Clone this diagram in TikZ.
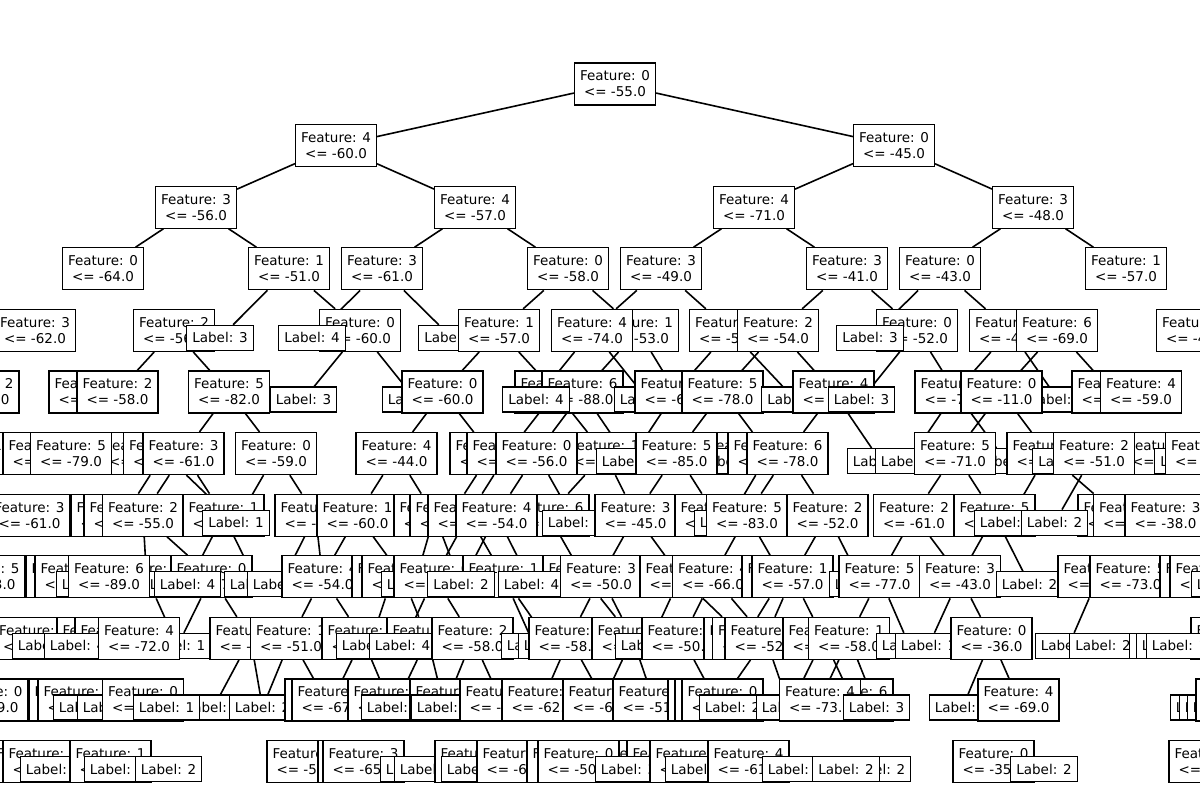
\documentclass[tikz,border=0pt]{standalone}
\usepackage{fontspec}
\setmainfont{DejaVu Sans}
\usetikzlibrary{backgrounds}
\newcommand{\ft}[2]{Feature: #1\\<= #2}
\newcommand{\lb}[1]{Label: #1}
\newcommand{\nfs}{\fontsize{13.5}{16}\selectfont}
\tikzset{
  F/.style={draw, fill=white, line width=1.2pt, align=center, inner xsep=5.5pt, inner ysep=0pt, minimum height=42pt, font=\nfs},
  L/.style={draw, fill=white, line width=1.2pt, inner xsep=5.5pt, inner ysep=0pt, minimum height=25pt, font=\nfs},
  edge/.style={line width=1.6pt}
}
\begin{document}
\begin{tikzpicture}[x=1pt,y=-1pt]
\path[use as bounding box] (0,0) rectangle (1200,800);
% level 0-3
\node[F] (a0) at (615,84) {\ft{0}{-55.0}};
\node[F] (b1) at (336,145.6) {\ft{4}{-60.0}};
\node[F] (b2) at (894,145.6) {\ft{0}{-45.0}};
\node[F] (c1) at (196,207.2) {\ft{3}{-56.0}};
\node[F] (c2) at (475,207.2) {\ft{4}{-57.0}};
\node[F] (c3) at (754,207.2) {\ft{4}{-71.0}};
\node[F] (c4) at (1033,207.2) {\ft{3}{-48.0}};
\node[F] (d1) at (103,268.8) {\ft{0}{-64.0}};
\node[F] (d2) at (289,268.8) {\ft{1}{-51.0}};
\node[F] (d3) at (382,268.8) {\ft{3}{-61.0}};
\node[F] (d4) at (568,268.8) {\ft{0}{-58.0}};
\node[F] (d5) at (661,268.8) {\ft{3}{-49.0}};
\node[F] (d6) at (847,268.8) {\ft{3}{-41.0}};
\node[F] (d7) at (940,268.8) {\ft{0}{-43.0}};
\node[F] (d8) at (1126,268.8) {\ft{1}{-57.0}};
% level 4
\node[F] (e1) at (35,330.4) {\ft{3}{-62.0}};
\node[F] (e2) at (174,330.4) {\ft{2}{-56.0}};
\node[L] (e3) at (220,337.9) {\lb{3}};
\node[F] (e5) at (360,330.4) {\ft{0}{-60.0}};
\node[L] (e4) at (312,337.9) {\lb{4}};
\node[L] (e6) at (452,337.9) {\lb{1}};
\node[F] (e7) at (499,330.4) {\ft{1}{-57.0}};
\node[F] (e9) at (638,330.4) {\ft{1}{-53.0}};
\node[F] (e8) at (592,330.4) {\ft{4}{-74.0}};
\node[F] (e10) at (730,330.4) {\ft{5}{-55.0}};
\node[F] (e11) at (778,330.4) {\ft{2}{-54.0}};
\node[F] (e12) at (917,330.4) {\ft{0}{-52.0}};
\node[L] (e13) at (870,337.9) {\lb{3}};
\node[F] (e14) at (1010,330.4) {\ft{3}{-47.0}};
\node[F] (e15) at (1057,330.4) {\ft{6}{-69.0}};
\node[F] (e16) at (1197,330.4) {\ft{2}{-46.0}};
% level 5
\node[F] (f1) at (-21.5,392) {\ft{2}{-60.0}};
\node[F] (f2) at (89.5,392) {\ft{1}{-57.0}};
\node[F] (f3) at (117.5,392) {\ft{2}{-58.0}};
\node[F] (f4) at (229,392) {\ft{5}{-82.0}};
\node[L] (f5) at (303.5,399.5) {\lb{3}};
\node[L] (f6) at (415.5,399.5) {\lb{2}};
\node[F] (f7) at (442.5,392) {\ft{0}{-60.0}};
\node[F] (f8) at (555.5,392) {\ft{1}{-62.0}};
\node[F] (f9) at (582.5,392) {\ft{6}{-88.0}};
\node[L] (f10) at (536,399.5) {\lb{4}};
\node[L] (f11) at (647.5,399.5) {\lb{1}};
\node[F] (f12) at (675.5,392) {\ft{3}{-64.0}};
\node[F] (f13) at (722.5,392) {\ft{5}{-78.0}};
\node[L] (f14) at (795,399.5) {\lb{0}};
\node[F] (f15) at (833.5,392) {\ft{4}{-70.0}};
\node[L] (f16) at (861.5,399.5) {\lb{3}};
\node[F] (f17) at (955.5,392) {\ft{2}{-73.0}};
\node[L] (f19) at (1058,399.5) {\lb{2}};
\node[F] (f18) at (1001.5,392) {\ft{0}{-11.0}};
\node[F] (f20) at (1112.5,392) {\ft{3}{-45.0}};
\node[F] (f21) at (1141,392) {\ft{4}{-59.0}};
% level 6
\node[F] (g1) at (-33,453.6) {\ft{1}{-70.0}};
\node[F] (g2) at (43.5,453.6) {\ft{0}{-66.0}};
\node[F] (g4) at (140,453.6) {\ft{4}{-53.0}};
\node[F] (g3) at (71,453.6) {\ft{5}{-79.0}};
\node[F] (g5) at (164,453.6) {\ft{0}{-62.0}};
\node[F] (g6) at (183.5,453.6) {\ft{3}{-61.0}};
\node[F] (g7) at (276,453.6) {\ft{0}{-59.0}};
\node[F] (g8) at (396.5,453.6) {\ft{4}{-44.0}};
\node[F] (g9) at (490.5,453.6) {\ft{2}{-61.0}};
\node[F] (g10) at (507.5,453.6) {\ft{5}{-60.0}};
\node[F] (g12) at (604.5,453.6) {\ft{1}{-59.0}};
\node[F] (g11) at (536.5,453.6) {\ft{0}{-56.0}};
\node[L] (g13) at (629.5,461.1) {\lb{4}};
\node[F] (g15) at (744,453.6) {\ft{3}{-54.0}};
\node[L] (g15b) at (729,461.1) {\lb{2}};
\node[F] (g14) at (676.5,453.6) {\ft{5}{-85.0}};
\node[F] (g16) at (768.5,453.6) {\ft{0}{-56.0}};
\node[F] (g17) at (787.5,453.6) {\ft{6}{-78.0}};
\node[L] (g18) at (880.5,461.1) {\lb{1}};
\node[L] (g19) at (908.5,461.1) {\lb{2}};
\node[L] (g21) at (1006,461.1) {\lb{4}};
\node[F] (g20) at (955,453.6) {\ft{5}{-71.0}};
\node[F] (g22) at (1047.5,453.6) {\ft{1}{-49.0}};
\node[L] (g23) at (1066,461.1) {\lb{3}};
\node[F] (g25) at (1163,453.6) {\ft{4}{-52.0}};
\node[F] (g24) at (1094,453.6) {\ft{2}{-51.0}};
\node[L] (g26) at (1188,461.1) {\lb{1}};
\node[F] (g27) at (1206,453.6) {\ft{0}{-47.0}};
% level 7
\node[F] (h1) at (29.5,515.2) {\ft{3}{-61.0}};
\node[F] (h2) at (111.5,515.2) {\ft{2}{-67.0}};
\node[F] (h3) at (124.5,515.2) {\ft{6}{-58.0}};
\node[F] (h4) at (143,515.2) {\ft{2}{-55.0}};
\node[F] (h5) at (223.5,515.2) {\ft{1}{-53.0}};
\node[L] (h6) at (236,522.7) {\lb{1}};
\node[F] (h7) at (315.5,515.2) {\ft{4}{-63.0}};
\node[F] (h8) at (357.5,515.2) {\ft{1}{-60.0}};
\node[F] (h9) at (434.5,515.2) {\ft{0}{-49.0}};
\node[F] (h10) at (450.5,515.2) {\ft{3}{-57.0}};
\node[F] (h11) at (468.5,515.2) {\ft{5}{-66.0}};
\node[F] (h13) at (548.5,515.2) {\ft{6}{-71.0}};
\node[F] (h12) at (496.5,515.2) {\ft{4}{-54.0}};
\node[L] (h14) at (575.5,522.7) {\lb{2}};
\node[F] (h15) at (635.5,515.2) {\ft{3}{-45.0}};
\node[F] (h16) at (715.5,515.2) {\ft{1}{-62.0}};
\node[L] (h17) at (727.5,522.7) {\lb{4}};
\node[F] (h18) at (747,515.2) {\ft{5}{-83.0}};
\node[F] (h19) at (827.5,515.2) {\ft{2}{-52.0}};
\node[F] (h20) at (914,515.2) {\ft{2}{-61.0}};
\node[F] (h21) at (994.5,515.2) {\ft{5}{-58.0}};
\node[L] (h22) at (1007.5,522.7) {\lb{1}};
\node[F] (h24) at (1118.5,515.2) {\ft{0}{-55.0}};
\node[L] (h23) at (1054.5,522.7) {\lb{2}};
\node[F] (h25) at (1134,515.2) {\ft{6}{-49.0}};
\node[F] (h26) at (1165.5,515.2) {\ft{3}{-38.0}};
% level 8
\node[F] (i1) at (-15.5,576.8) {\ft{5}{-83.0}};
\node[F] (i2) at (66.5,576.8) {\ft{3}{-60.0}};
\node[F] (i3) at (75.5,576.8) {\ft{0}{-52.0}};
\node[F] (i6) at (146.5,576.8) {\ft{1}{-56.0}};
\node[L] (i7) at (177.5,584.3) {\lb{3}};
\node[L] (i4) at (89.5,584.3) {\lb{1}};
\node[F] (i5) at (109,576.8) {\ft{6}{-89.0}};
\node[F] (i8) at (211.5,576.8) {\ft{0}{-57.0}};
\node[L] (i9) at (187.5,584.3) {\lb{4}};
\node[L] (i10) at (257.5,584.3) {\lb{2}};
\node[L] (i11) at (280.5,584.3) {\lb{1}};
\node[F] (i12) at (322.5,576.8) {\ft{4}{-54.0}};
\node[F] (i13) at (392.5,576.8) {\ft{2}{-64.0}};
\node[F] (i14) at (402.5,576.8) {\ft{5}{-60.0}};
\node[L] (i15) at (414.5,584.3) {\lb{0}};
\node[F] (i16) at (434.5,576.8) {\ft{6}{-55.0}};
\node[F] (i17) at (503.5,576.8) {\ft{1}{-61.0}};
\node[L] (i18) at (461,584.3) {\lb{2}};
\node[F] (i20) at (583.5,576.8) {\ft{2}{-59.0}};
\node[L] (i19) at (531.5,584.3) {\lb{4}};
\node[F] (i21) at (601,576.8) {\ft{3}{-50.0}};
\node[F] (i22) at (680.5,576.8) {\ft{0}{-53.0}};
\node[F] (i23) at (713,576.8) {\ft{4}{-66.0}};
\node[F] (i24) at (782.5,576.8) {\ft{5}{-60.0}};
\node[F] (i25) at (792.5,576.8) {\ft{1}{-57.0}};
\node[L] (i26) at (862.5,584.3) {\lb{3}};
\node[F] (i27) at (879.5,576.8) {\ft{5}{-77.0}};
\node[F] (i28) at (960,576.8) {\ft{3}{-43.0}};
\node[L] (i29) at (1029.5,584.3) {\lb{2}};
\node[F] (i30) at (1098.5,576.8) {\ft{2}{-56.0}};
\node[F] (i31) at (1130.5,576.8) {\ft{5}{-73.0}};
\node[F] (i32) at (1200.5,576.8) {\ft{0}{-60.0}};
\node[F] (i33) at (1210.5,576.8) {\ft{4}{-58.0}};
\node[L] (i34) at (1224.5,584.3) {\lb{1}};
% level 9
\node[F] (j1) at (34,638.4) {\ft{3}{-59.0}};
\node[F] (j2) at (97.5,638.4) {\ft{1}{-60.0}};
\node[L] (j3) at (45.5,645.9) {\lb{2}};
\node[F] (j2b) at (115.5,638.4) {\ft{4}{-55.0}};
\node[L] (j4) at (77.5,645.9) {\lb{4}};
\node[L] (j6) at (177.5,645.9) {\lb{1}};
\node[F] (j5) at (139,638.4) {\ft{4}{-72.0}};
\node[F] (j7) at (250.5,638.4) {\ft{0}{-57.0}};
\node[F] (j8) at (291,638.4) {\ft{1}{-51.0}};
\node[F] (j9) at (362.5,638.4) {\ft{2}{-56.0}};
\node[L] (j10) at (369.5,645.9) {\lb{3}};
\node[F] (j12) at (427.5,638.4) {\ft{5}{-62.0}};
\node[L] (j11) at (402.5,645.9) {\lb{4}};
\node[F] (j14) at (472.5,638.4) {\ft{2}{-58.0}};
\node[L] (j15) at (534.5,645.9) {\lb{1}};
\node[L] (j16) at (551.5,645.9) {\lb{2}};
\node[F] (j17) at (569.5,638.4) {\ft{3}{-58.0}};
\node[F] (j18) at (632.5,638.4) {\ft{0}{-61.0}};
\node[L] (j19) at (648.5,645.9) {\lb{3}};
\node[F] (j20) at (682.5,638.4) {\ft{5}{-50.0}};
\node[F] (j21) at (744.5,638.4) {\ft{2}{-64.0}};
\node[F] (j21b) at (753,638.4) {\ft{6}{-57.0}};
\node[F] (j22) at (765.5,638.4) {\ft{1}{-52.0}};
\node[F] (j23) at (823.5,638.4) {\ft{4}{-60.0}};
\node[F] (j24) at (849,638.4) {\ft{1}{-58.0}};
\node[L] (j25) at (909.5,645.9) {\lb{2}};
\node[L] (j26) at (928.5,645.9) {\lb{1}};
\node[F] (j27) at (991.5,638.4) {\ft{0}{-36.0}};
\node[L] (j28) at (1068.5,645.9) {\lb{4}};
\node[L] (j29) at (1103,645.9) {\lb{2}};
\node[F] (j33) at (1231.5,638.4) {\ft{3}{-52.0}};
\node[L] (j30) at (1162.5,645.9) {\lb{1}};
\node[L] (j31) at (1169.5,645.9) {\lb{3}};
\node[L] (j32) at (1179.5,645.9) {\lb{1}};
% level 10
\node[F] (k1) at (-12.5,700) {\ft{0}{-59.0}};
\node[F] (k2) at (69.5,700) {\ft{2}{-63.0}};
\node[F] (k3) at (78.5,700) {\ft{5}{-66.0}};
\node[L] (k4) at (86.5,707.5) {\lb{1}};
\node[L] (k5) at (110.5,707.5) {\lb{4}};
\node[F] (k6) at (143,700) {\ft{0}{-62.0}};
\node[L] (k8) at (213.5,707.5) {\lb{3}};
\node[L] (k7) at (166.5,707.5) {\lb{1}};
\node[L] (k9) at (262.5,707.5) {\lb{2}};
\node[F] (k10) at (325.5,700) {\ft{1}{-54.0}};
\node[F] (k11) at (332.5,700) {\ft{3}{-67.0}};
\node[F] (k12) at (388.5,700) {\ft{4}{-55.0}};
\node[L] (k13) at (394.5,707.5) {\lb{2}};
\node[F] (k13b) at (450.5,700) {\ft{6}{-60.0}};
\node[L] (k14) at (444.5,707.5) {\lb{3}};
\node[F] (k15) at (500.5,700) {\ft{2}{-58.0}};
\node[F] (k16) at (542.5,700) {\ft{1}{-62.0}};
\node[F] (k17) at (603.5,700) {\ft{3}{-64.0}};
\node[F] (k18) at (653.5,700) {\ft{5}{-51.0}};
\node[F] (k19) at (708.5,700) {\ft{4}{-57.0}};
\node[F] (k20) at (715.5,700) {\ft{2}{-60.0}};
\node[F] (k21) at (722.5,700) {\ft{0}{-55.0}};
\node[L] (k22) at (732.5,707.5) {\lb{2}};
\node[L] (k23) at (789.5,707.5) {\lb{1}};
\node[F] (k26) at (852.5,700) {\ft{6}{-58.0}};
\node[F] (k24) at (820,700) {\ft{4}{-73.0}};
\node[L] (k27) at (876.5,707.5) {\lb{3}};
\node[L] (k28) at (962.5,707.5) {\lb{1}};
\node[F] (k29) at (1018.5,700) {\ft{4}{-69.0}};
\node[L] (k30) at (1203.5,707.5) {\lb{1}};
\node[L] (k31) at (1212.5,707.5) {\lb{3}};
\node[L] (k32) at (1220.5,707.5) {\lb{2}};
\node[F] (k33) at (1236.5,700) {\ft{0}{-61.0}};
% level 11
\node[F] (l1) at (32,761.6) {\ft{1}{-50.0}};
\node[F] (l2) at (43.5,761.6) {\ft{4}{-55.0}};
\node[L] (l3) at (53.5,769.1) {\lb{3}};
\node[F] (l4) at (110.5,761.6) {\ft{1}{-58.0}};
\node[L] (l5) at (117.5,769.1) {\lb{4}};
\node[L] (l6) at (168.5,769.1) {\lb{2}};
\node[F] (l7) at (307.5,761.6) {\ft{5}{-56.0}};
\node[F] (l7b) at (358.5,761.6) {\ft{2}{-60.0}};
\node[F] (l8) at (363.5,761.6) {\ft{3}{-65.0}};
\node[L] (l9) at (413.5,769.1) {\lb{1}};
\node[L] (l10) at (427.5,769.1) {\lb{2}};
\node[F] (l11) at (475.5,761.6) {\ft{0}{-57.0}};
\node[L] (l12) at (474.5,769.1) {\lb{4}};
\node[F] (l13) at (517.5,761.6) {\ft{6}{-63.0}};
\node[F] (l14) at (567.5,761.6) {\ft{2}{-54.0}};
\node[F] (l17) at (647.5,761.6) {\ft{5}{-59.0}};
\node[F] (l15) at (578.5,761.6) {\ft{0}{-50.0}};
\node[F] (l18) at (667.5,761.6) {\ft{1}{-52.0}};
\node[L] (l16) at (628.5,769.1) {\lb{3}};
\node[F] (l19) at (690.5,761.6) {\ft{3}{-61.0}};
\node[L] (l20) at (698.5,769.1) {\lb{1}};
\node[F] (l21) at (748.5,761.6) {\ft{4}{-61.0}};
\node[L] (l22) at (795.5,769.1) {\lb{2}};
\node[L] (l24) at (877.5,769.1) {\lb{2}};
\node[L] (l23) at (846,769.1) {\lb{2}};
\node[F] (l25) at (993.5,761.6) {\ft{0}{-35.0}};
\node[L] (l26) at (1044,769.1) {\lb{2}};
\node[F] (l27) at (1209.5,761.6) {\ft{2}{-58.0}};
% connectors
\begin{scope}[on background layer]
\foreach \p/\c in {a0/b1,a0/b2,b1/c1,b1/c2,b2/c3,b2/c4,c1/d1,c1/d2,c2/d3,c2/d4,c3/d5,c3/d6,c4/d7,c4/d8,
  d2/e3,d2/e5,d3/e4,d3/e6,d4/e7,d4/e9,d5/e8,d5/e10,d6/e11,d6/e12,d7/e13,d7/e14,
  e2/f3,e2/f4,e5/f5,e5/f6,e7/f7,e7/f8,e8/f10,e8/f11,e9/f9,e9/f12,e10/f12,e10/f14,e11/f13,e11/f15,e12/f16,e12/f17,e14/f17,e14/f19,e15/f18,e15/f20,
  f4/g6,f4/g7,f7/g8,f7/g9,f8/g10,f8/g12,f9/g11,f9/g13,f12/g13,f13/g14,f13/g16,f15/g17,f15/g18,f17/g19,f17/g21,f18/g20,f18/g22,
  g5/h3,g5/h6,g6/h4,g6/h5,g7/h6,g7/h7,g8/h8,g8/h9,g9/h10,g10/h11,g11/h12,g11/h14,g12/h13,g12/h15,g14/h15,g14/h16,g16/h17,g17/h18,g17/h19,g20/h20,g20/h21,g22/h22,g22/h24,g24/h23,
  h4/i6,h4/i8,h5/i9,h5/i10,h7/i11,h7/i12,h8/i12,h8/i14,h9/i15,h9/i18,h11/i16,h11/i17,h12/i18,h12/i19,h13/i20,h15/i21,h15/i22,h18/i23,h18/i24,h19/i25,h19/i26,h20/i27,h20/i28,h21/i28,h21/i29,
  i6/j6,i8/j6,i8/j7,i12/j8,i12/j9,i13/j10,i14/j12,i16/j11,i16/j14,i17/j15,i17/j16,i20/j18,i21/j17,i21/j18,i22/j19,i22/j21,i23/j20,i23/j22,i24/j21,i25/j22,i25/j23,i27/j24,i27/j25,i28/j26,i28/j27,i30/j28,
  j7/k8,j7/k9,j8/k9,j8/k10,j9/k11,j9/k12,j12/k13,j12/k14,j14/k14,j14/k15,j17/k16,j17/k17,j18/k17,j18/k18,j20/k20,j22/k21,j22/k23,j23/k23,j23/k26,j24/k24,j24/k27,j27/k28,j27/k29}
  \draw[edge] (\p) -- (\c);
\end{scope}
\end{tikzpicture}
\end{document}
